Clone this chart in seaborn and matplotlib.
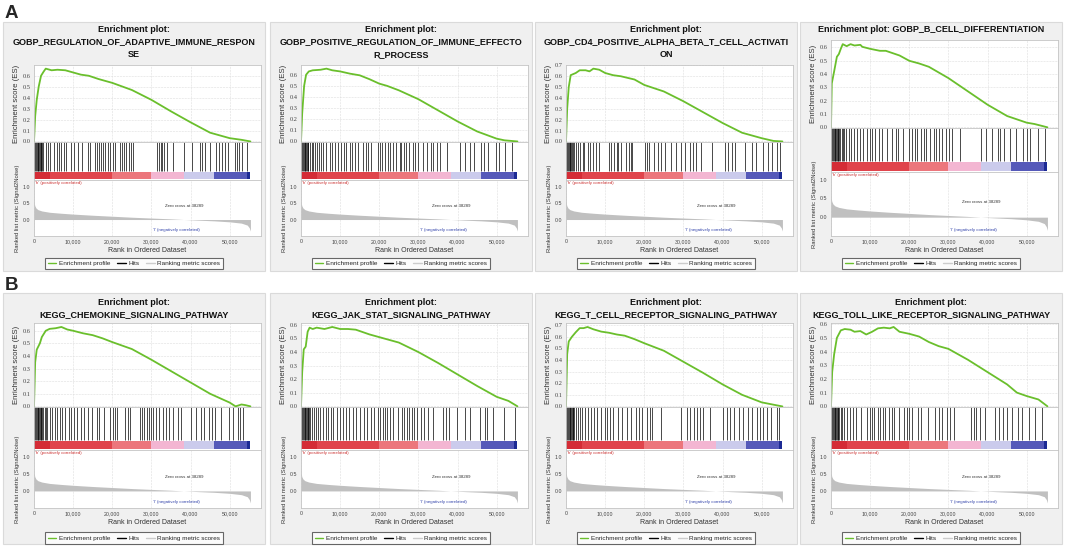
import numpy as np
import matplotlib
matplotlib.use("Agg")
import matplotlib.pyplot as plt
from matplotlib.patches import Rectangle
from matplotlib.lines import Line2D
from matplotlib.colors import ListedColormap, BoundaryNorm
from matplotlib.ticker import FuncFormatter, FormatStrFormatter
import seaborn as sns

sns.set_theme(style="white")
plt.rcParams["font.family"] = ["Liberation Sans", "DejaVu Sans"]

# ---- data ----
titles = [
    "Enrichment plot:\nGOBP_REGULATION_OF_ADAPTIVE_IMMUNE_RESPON\nSE",
    "Enrichment plot:\nGOBP_POSITIVE_REGULATION_OF_IMMUNE_EFFECTO\nR_PROCESS",
    "Enrichment plot:\nGOBP_CD4_POSITIVE_ALPHA_BETA_T_CELL_ACTIVATI\nON",
    "Enrichment plot: GOBP_B_CELL_DIFFERENTIATION",
    "Enrichment plot:\nKEGG_CHEMOKINE_SIGNALING_PATHWAY",
    "Enrichment plot:\nKEGG_JAK_STAT_SIGNALING_PATHWAY",
    "Enrichment plot:\nKEGG_T_CELL_RECEPTOR_SIGNALING_PATHWAY",
    "Enrichment plot:\nKEGG_TOLL_LIKE_RECEPTOR_SIGNALING_PATHWAY",
]
panel_letters = ["A", "B"]

# running enrichment score (rank, ES)
es_x_1 = [0, 300, 700, 1200, 1800, 2500, 3000, 4500, 6000, 8000, 10000, 12000, 14000, 16500, 20000, 25000, 30000, 35000, 40000, 45000, 50000, 53000, 55300]
es_y_1 = [0, 0.23, 0.38, 0.50, 0.60, 0.64, 0.665, 0.65, 0.655, 0.65, 0.63, 0.61, 0.60, 0.57, 0.535, 0.47, 0.38, 0.275, 0.175, 0.08, 0.03, 0.015, 0.0]
es_x_2 = [0, 300, 800, 1300, 2000, 3000, 5000, 6500, 8000, 10000, 12500, 15000, 17500, 20000, 22000, 25000, 30000, 35000, 40000, 45000, 50000, 52000, 55300]
es_y_2 = [0, 0.25, 0.50, 0.60, 0.63, 0.64, 0.645, 0.655, 0.64, 0.63, 0.61, 0.595, 0.56, 0.52, 0.50, 0.46, 0.38, 0.28, 0.18, 0.09, 0.025, 0.01, 0.0]
es_x_3 = [0, 300, 700, 1200, 2500, 3500, 5000, 6000, 7000, 8500, 10000, 12000, 14000, 17500, 20000, 25000, 30000, 35000, 40000, 45000, 50000, 53000, 55300]
es_y_3 = [0, 0.30, 0.50, 0.61, 0.63, 0.655, 0.655, 0.645, 0.67, 0.66, 0.63, 0.61, 0.60, 0.57, 0.52, 0.46, 0.37, 0.27, 0.17, 0.08, 0.03, 0.005, 0.0]
es_x_4 = [0, 200, 800, 1500, 2000, 2500, 3000, 4000, 5000, 6000, 7500, 8000, 10000, 12500, 14000, 15000, 17500, 20000, 22500, 25000, 30000, 35000, 40000, 45000, 50000, 52000, 54000, 55300]
es_y_4 = [0, 0.33, 0.42, 0.53, 0.55, 0.59, 0.625, 0.61, 0.625, 0.615, 0.62, 0.605, 0.59, 0.575, 0.575, 0.565, 0.54, 0.50, 0.48, 0.455, 0.37, 0.27, 0.17, 0.085, 0.035, 0.025, 0.01, 0.0]
es_x_5 = [0, 300, 700, 1500, 2000, 3000, 4000, 5500, 7000, 8500, 10000, 12500, 15000, 17500, 20000, 25000, 30000, 35000, 40000, 45000, 50000, 51500, 53000, 54000, 55300]
es_y_5 = [0, 0.35, 0.45, 0.50, 0.55, 0.60, 0.615, 0.62, 0.63, 0.61, 0.60, 0.58, 0.565, 0.54, 0.51, 0.455, 0.37, 0.28, 0.19, 0.10, 0.03, 0.0, 0.015, 0.01, 0.0]
es_x_6 = [0, 300, 700, 1200, 1700, 2200, 3000, 4000, 6000, 8000, 10000, 12000, 14000, 17500, 20000, 25000, 30000, 35000, 40000, 45000, 50000, 53000, 55300]
es_y_6 = [0, 0.25, 0.42, 0.44, 0.55, 0.58, 0.57, 0.58, 0.57, 0.585, 0.57, 0.57, 0.565, 0.53, 0.51, 0.47, 0.40, 0.32, 0.235, 0.15, 0.07, 0.04, 0.0]
es_x_7 = [0, 300, 700, 1500, 2500, 3500, 4500, 5500, 7000, 9000, 11000, 13000, 15000, 17500, 20000, 25000, 30000, 35000, 40000, 45000, 50000, 53000, 55300]
es_y_7 = [0, 0.45, 0.56, 0.60, 0.64, 0.675, 0.675, 0.685, 0.665, 0.645, 0.635, 0.62, 0.61, 0.58, 0.545, 0.48, 0.385, 0.29, 0.19, 0.10, 0.035, 0.015, 0.0]
es_x_8 = [0, 300, 800, 1500, 2500, 3500, 5000, 6000, 7500, 9000, 10500, 12000, 13500, 15000, 16000, 17500, 20000, 22500, 25000, 27500, 30000, 35000, 40000, 45000, 47500, 50000, 53000, 55300]
es_y_8 = [0, 0.25, 0.38, 0.50, 0.555, 0.565, 0.56, 0.545, 0.55, 0.525, 0.545, 0.57, 0.575, 0.57, 0.58, 0.545, 0.53, 0.51, 0.47, 0.44, 0.42, 0.34, 0.25, 0.16, 0.10, 0.075, 0.05, 0.0]

# gene set hits (rank positions)
hits_1 = [100, 300, 500, 700, 900, 1100, 1300, 1500, 1700, 1900, 2100, 2400, 3000, 3550, 4200, 5100, 5800, 6350, 7000, 7600, 8300, 9500, 10200, 11200, 12300, 13700, 14400, 15700, 16100, 16500, 17000, 17600, 18200, 18800, 19500, 20300, 20800, 21900, 22500, 23000, 23600, 24200, 24700, 25300, 31400, 31900, 32400, 32800, 33200, 33900, 35400, 38300, 40300, 42400, 43000, 43600, 44900, 46600, 47300, 48100, 48700, 49600, 51300, 51900, 52500, 53200, 54400]
hits_2 = [100, 300, 500, 700, 900, 1100, 1300, 1500, 1700, 1900, 2300, 2700, 3100, 3600, 4000, 4600, 5100, 5700, 6500, 7400, 8000, 8600, 9500, 10300, 10900, 11600, 12500, 13100, 13700, 14600, 15800, 16700, 17100, 18000, 19700, 20100, 20800, 21400, 22200, 22800, 23500, 24300, 25200, 25600, 26200, 26900, 27700, 28600, 29000, 29800, 31100, 32200, 33100, 33600, 34700, 35600, 37300, 40700, 41900, 43200, 44200, 45900, 46800, 47700, 49700, 50600, 52200, 53800]
hits_3 = [100, 300, 500, 700, 900, 1100, 1300, 1500, 1700, 2100, 2600, 3000, 3700, 4300, 4700, 5600, 6200, 6800, 7700, 8500, 11100, 11500, 12200, 13100, 13400, 14100, 15400, 16000, 16500, 16800, 20100, 20800, 21100, 22600, 23500, 24400, 25200, 26900, 28200, 29500, 30500, 31600, 32500, 33300, 34600, 37200, 40600, 41500, 42300, 43300, 45700, 47400, 48500, 50400, 51700, 52700, 53800, 54700]
hits_4 = [100, 300, 500, 700, 900, 1100, 1300, 1500, 1700, 1900, 2100, 2400, 2700, 3000, 3400, 3900, 4500, 5200, 5900, 6700, 7300, 8200, 9300, 9900, 10500, 11200, 12200, 13100, 14200, 15500, 16600, 17200, 18500, 20000, 20700, 21400, 22000, 23100, 23700, 24300, 25400, 26300, 26900, 27600, 28400, 29300, 30200, 31000, 32900, 38400, 39500, 41200, 42700, 43300, 44100, 45700, 47200, 49100, 50000, 50900, 53000, 54700]
hits_5 = [100, 300, 500, 700, 900, 1100, 1300, 1500, 1700, 1900, 2100, 2400, 2700, 3000, 3400, 4000, 4600, 5300, 5900, 6600, 7200, 8000, 8900, 9400, 10100, 11100, 12000, 12800, 13700, 14800, 16000, 16700, 17900, 19400, 20100, 20700, 21200, 23200, 24000, 24600, 27000, 27700, 28200, 28800, 29300, 29900, 30500, 31200, 31900, 32900, 33700, 34600, 35600, 36700, 37500, 40000, 41300, 42600, 43400, 44800, 45500, 46200, 47900, 49700, 50800, 52100, 52700, 53500]
hits_6 = [100, 300, 500, 700, 900, 1100, 1300, 1500, 1700, 1900, 2100, 2400, 2700, 3200, 3800, 4400, 4900, 5500, 6400, 7000, 7600, 8300, 9100, 10000, 10800, 11500, 12300, 13200, 14100, 15100, 16100, 16800, 17800, 18700, 19800, 20200, 20900, 21500, 22100, 22700, 23400, 24900, 25700, 26300, 27000, 27700, 28300, 28900, 29600, 30600, 31300, 32500, 33800, 36400, 37100, 37700, 39800, 41900, 43200, 45700, 47000, 47600, 49100, 51900, 54700]
hits_7 = [100, 300, 500, 700, 900, 1100, 1300, 1500, 1700, 1900, 2100, 2500, 3000, 3600, 4200, 4800, 5500, 6400, 7200, 7900, 8900, 9900, 10600, 11300, 12100, 13300, 14200, 15700, 16500, 18000, 18600, 19500, 20600, 21400, 22000, 24300, 29400, 30900, 31800, 32600, 33500, 34300, 35000, 36900, 40100, 41100, 41900, 43000, 44100, 45300, 46600, 47500, 48700, 49600, 50300, 51400, 52500, 54000, 54500]
hits_8 = [100, 300, 500, 700, 900, 1100, 1300, 1500, 1700, 1900, 2100, 2500, 2900, 3300, 4000, 4900, 5500, 6400, 7700, 9300, 9900, 10500, 11100, 11900, 12500, 13200, 13900, 14700, 15600, 16100, 17400, 18700, 19300, 20000, 20700, 22200, 23100, 24800, 26600, 27500, 28300, 29600, 30500, 31400, 35800, 36500, 37100, 38000, 39300, 41900, 43000, 43900, 45000, 46300, 47900, 48900, 50700, 52000, 53800]

# ranked list metric (same ranking for every panel)
metric_rank = [0, 200, 500, 1000, 2000, 4000, 7000, 10000, 15000, 20000, 25000, 30000, 35000, 38289, 42000, 46000, 50000, 53000, 54500, 55000, 55300]
metric_val = [0.55, 0.42, 0.35, 0.30, 0.26, 0.22, 0.19, 0.165, 0.13, 0.10, 0.07, 0.045, 0.02, 0.0, -0.02, -0.04, -0.07, -0.11, -0.17, -0.25, -0.35]
zero_cross = 38289

es_x = [es_x_1, es_x_2, es_x_3, es_x_4, es_x_5, es_x_6, es_x_7, es_x_8]
es_y = [es_y_1, es_y_2, es_y_3, es_y_4, es_y_5, es_y_6, es_y_7, es_y_8]
hits = [hits_1, hits_2, hits_3, hits_4, hits_5, hits_6, hits_7, hits_8]

# ---- layout (pixels) ----
W, H = 1065, 548
fig = plt.figure(figsize=(W / 100, H / 100), dpi=100)


def fbox(l, t, w, h):
    return [l / W, 1 - (t + h) / H, w / W, h / H]


layouts = {
    (0, 3): dict(title=42, es=(65, 142), hits=(142, 180), rk=(180, 236), leg=263.5, box=(22, 249)),
    (0, 1): dict(title=29, es=(40, 128), hits=(128, 172), rk=(172, 236), leg=263.5, box=(22, 249)),
    (1, 2): dict(title=308.5, es=(323, 407), hits=(407, 450), rk=(450, 508), leg=538, box=(293, 251)),
}
col_x = [3, 270, 535, 800]
box_w = 262

green = "#6abf2c"
strip_cmap = ListedColormap(["#1c2a94", "#5559b9", "#cbcbec", "#f3b6d2", "#ec767c", "#e0444c", "#d42c36"])
strip_norm = BoundaryNorm([-2, -0.14, -0.035, 0.005, 0.05, 0.115, 0.25, 2], strip_cmap.N)
spine_c = "#c4c4c4"
serif = ["Liberation Serif", "DejaVu Serif"]


def style_axes(ax):
    for s in ax.spines.values():
        s.set_color(spine_c)
        s.set_linewidth(0.6)
    ax.set_facecolor("white")
    ax.set_xlim(0, 58000)
    ax.tick_params(length=1.5, width=0.4, pad=1, colors="#444444")


for i in range(8):
    row, col = divmod(i, 4)
    nl = titles[i].count("\n") + 1
    L = layouts[(row, nl)]
    bx = col_x[col]
    fig.patches.append(Rectangle((bx / W, 1 - (L["box"][0] + L["box"][1]) / H), box_w / W, L["box"][1] / H,
                                 transform=fig.transFigure, facecolor="#f0f0f0", edgecolor="#dadada",
                                 lw=0.8, zorder=-5))
    fig.text((bx + box_w / 2) / W, 1 - L["title"] / H, titles[i], ha="center", va="center",
             fontsize=6.5, fontweight="bold", linespacing=1.45, color="#111111")

    ax_l, ax_w = bx + 31, 227

    # enrichment score
    ax = fig.add_axes(fbox(ax_l, L["es"][0], ax_w, L["es"][1] - L["es"][0]))
    style_axes(ax)
    sns.lineplot(x=es_x[i], y=es_y[i], ax=ax, color=green, lw=1.3)
    top = max(es_y[i]) * 1.05
    ax.set_ylim(-0.005, top)
    ax.set_yticks(np.round(np.arange(0, top, 0.1), 1))
    ax.yaxis.set_major_formatter(FormatStrFormatter("%.1f"))
    ax.set_xticks(range(0, 60000, 10000))
    ax.tick_params(labelbottom=False, labelsize=4.6, bottom=False)
    for t in ax.get_yticklabels():
        t.set_family(serif)
    ax.grid(True, color="#dddddd", lw=0.4, ls="--")
    ax.set_xlabel("")
    ax.set_ylabel("Enrichment score (ES)", fontsize=5.6, labelpad=2, color="#333333")

    # hits + colour strip
    axh = fig.add_axes(fbox(ax_l, L["hits"][0], ax_w, L["hits"][1] - L["hits"][0]))
    style_axes(axh)
    axh.vlines(hits[i], 0.24, 1, color="black", lw=0.5)
    axh.pcolormesh(metric_rank, [0.02, 0.22], np.array(metric_val[:-1])[None, :],
                   cmap=strip_cmap, norm=strip_norm, shading="flat")
    axh.set_ylim(0, 1)
    axh.set_xticks([])
    axh.set_yticks([])

    # ranked list metric
    axr = fig.add_axes(fbox(ax_l, L["rk"][0], ax_w, L["rk"][1] - L["rk"][0]))
    style_axes(axr)
    axr.fill_between(metric_rank, metric_val, 0, color="#c0c0c0", lw=0)
    axr.vlines(zero_cross, -0.06, 0.08, color="white", lw=1.2)
    axr.set_ylim(-0.5, 1.2)
    axr.set_yticks([0, 0.5, 1.0])
    axr.yaxis.set_major_formatter(FormatStrFormatter("%.1f"))
    axr.set_xticks(range(0, 60000, 10000))
    axr.xaxis.set_major_formatter(FuncFormatter(lambda v, p: f"{int(v):,}"))
    axr.tick_params(labelsize=3.8)
    axr.grid(True, axis="x", color="#dddddd", lw=0.4, ls="--")
    axr.set_xlabel("Rank in Ordered Dataset", fontsize=5.0, labelpad=1.5, color="#333333")
    axr.set_ylabel("Ranked list metric (Signal2Noise)", fontsize=4.2, labelpad=2, color="#333333")
    axr.text(300, 1.12, "'h' (positively correlated)", fontsize=3.2, color="#cc3333", va="center")
    axr.text(zero_cross, 0.4, f"Zero cross at {zero_cross}", fontsize=3.2, color="#333333",
             ha="center", va="center")
    axr.text(36500, -0.33, "'l' (negatively correlated)", fontsize=3.2, color="#3344aa",
             ha="center", va="center")

    handles = [Line2D([], [], color=green, lw=1.0), Line2D([], [], color="black", lw=1.0),
               Line2D([], [], color="#cccccc", lw=1.0)]
    leg = fig.legend(handles, ["Enrichment profile", "Hits", "Ranking metric scores"], loc="center",
                     bbox_to_anchor=((bx + box_w / 2) / W, 1 - L["leg"] / H), ncol=3, fontsize=4.6,
                     frameon=True, fancybox=False, edgecolor="#444444", handlelength=1.3,
                     columnspacing=1.1, borderpad=0.45, handletextpad=0.4)
    leg.get_frame().set_linewidth(0.8)

for r, letter in enumerate(panel_letters):
    fig.text(5 / W, 1 - [18, 290][r] / H, letter, fontsize=13.5, fontweight="bold", ha="left", va="baseline")

fig.savefig("out.png", dpi=100, facecolor="white")
